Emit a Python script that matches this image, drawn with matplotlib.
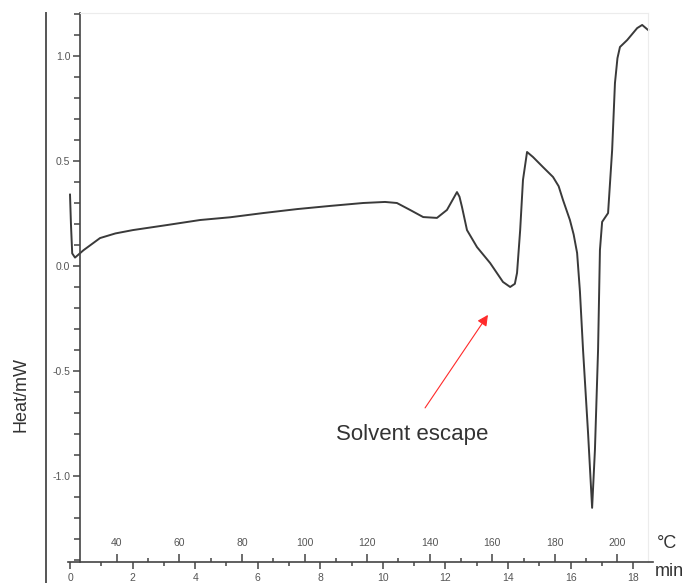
import matplotlib
matplotlib.use("Agg")
import matplotlib.pyplot as plt
import matplotlib.ticker as mticker
from matplotlib.lines import Line2D

# DSC curve (time in min, heat flow in mW)
time_min = [0.00, 0.03, 0.07, 0.16, 0.43, 0.96, 1.45, 2.01, 3.10, 4.16, 5.12,
            6.17, 7.26, 8.31, 9.37, 10.07, 10.45, 10.87, 11.29, 11.73, 12.05,
            12.25, 12.37, 12.45, 12.53, 12.69, 13.01, 13.43, 13.84, 14.07,
            14.22, 14.29, 14.39, 14.48, 14.61, 14.80, 15.12, 15.44, 15.62,
            15.76, 15.98, 16.10, 16.21, 16.30, 16.40, 16.56, 16.69, 16.78,
            16.88, 16.94, 17.01, 17.20, 17.33, 17.42, 17.50, 17.58, 17.81,
            18.13, 18.29, 18.48]
heat_mw = [0.34, 0.20, 0.06, 0.04, 0.075, 0.133, 0.155, 0.171, 0.195, 0.219,
           0.232, 0.252, 0.271, 0.286, 0.300, 0.305, 0.300, 0.267, 0.233,
           0.229, 0.267, 0.320, 0.352, 0.330, 0.281, 0.171, 0.090, 0.014,
           -0.076, -0.100, -0.085, -0.033, 0.171, 0.410, 0.543, 0.519, 0.471,
           0.424, 0.380, 0.314, 0.219, 0.150, 0.062, -0.120, -0.40, -0.795,
           -1.152, -0.876, -0.40, 0.076, 0.21, 0.252, 0.552, 0.871, 0.990,
           1.043, 1.076, 1.133, 1.148, 1.124]

y_major = [-1.0, -0.5, 0.0, 0.5, 1.0]
min_major = [0, 2, 4, 6, 8, 10, 12, 14, 16, 18]
min_minor = [1, 3, 5, 7, 9, 11, 13, 15, 17]
temp_major = [40, 60, 80, 100, 120, 140, 160, 180, 200]
temp_minor = [50, 70, 90, 110, 130, 150, 170, 190]

annot_text = "Solvent escape"
annot_head = (13.36, -0.233)
annot_tail = (11.35, -0.676)
annot_pos = (10.93, -0.805)

axis_col = "#444444"
label_col = "#555555"

plt.rcParams['font.family'] = ['Liberation Sans', 'DejaVu Sans']

fig = plt.figure(figsize=(6.88, 5.83), dpi=100)
W, H = 688.0, 583.0
ax = fig.add_axes([60 / W, 1 - 562 / H, 600 / W, (562 - 13) / H])

ax.plot(time_min, heat_mw, color="#3a3a3a", lw=1.4, solid_joinstyle="round")

ax.set_xlim(-0.32, 18.86)
ax.set_ylim(-1.41, 1.205)

# spines: left at ~0.32 min, bottom at ylim, faint top/right frame
ax.spines['left'].set_position(('data', 0.32))
ax.spines['left'].set_bounds(-1.41, 1.205)
ax.spines['bottom'].set_bounds(-0.06, 18.64)
for s in ('left', 'bottom'):
    ax.spines[s].set_color(axis_col)
    ax.spines[s].set_linewidth(1.2)
ax.spines['right'].set_position(('data', 18.48))
ax.spines['right'].set_bounds(-1.41, 1.205)
ax.spines['top'].set_bounds(0.32, 18.48)
for s in ('top', 'right'):
    ax.spines[s].set_color("#ececec")
    ax.spines[s].set_linewidth(0.8)

# y ticks
ax.yaxis.set_major_locator(mticker.FixedLocator(y_major))
ax.yaxis.set_minor_locator(mticker.MultipleLocator(0.1))
ax.yaxis.set_major_formatter(mticker.FuncFormatter(lambda v, p: "%.1f" % v))
ax.tick_params(axis='y', which='major', direction='out', length=5, width=1.1,
               color=axis_col, labelsize=7.5, labelcolor=label_col, pad=2)
ax.tick_params(axis='y', which='minor', direction='out', length=4, width=1.1,
               color=axis_col)

# bottom: minutes, ticks down
ax.xaxis.set_major_locator(mticker.FixedLocator(min_major))
ax.xaxis.set_minor_locator(mticker.FixedLocator(min_minor))
ax.tick_params(axis='x', which='major', direction='out', length=5, width=1.1,
               color=axis_col, labelsize=7.5, labelcolor=label_col, pad=3)
ax.tick_params(axis='x', which='minor', direction='out', length=3, width=1.1,
               color=axis_col)

# temperature scale, ticks up from the same line
sec = ax.secondary_xaxis(0.0, functions=(lambda t: 25 + 10 * t,
                                         lambda c: (c - 25) / 10.0))
sec.set_alignment('top')
sec.spines['top'].set_visible(False)
sec.spines['bottom'].set_visible(False)
sec.xaxis.set_major_locator(mticker.FixedLocator(temp_major))
sec.xaxis.set_minor_locator(mticker.FixedLocator(temp_minor))
sec.tick_params(axis='x', which='major', direction='out', length=6, width=1.1,
                color=axis_col, labelsize=7.5, labelcolor=label_col, pad=4)
sec.tick_params(axis='x', which='minor', direction='out', length=3, width=1.1,
                color=axis_col)

# annotation
ax.annotate("", xy=annot_head, xytext=annot_tail,
            arrowprops=dict(arrowstyle='-|>', color='#ff2a2a', lw=0.8,
                            mutation_scale=16, shrinkA=0, shrinkB=0))
ax.text(annot_pos[0], annot_pos[1], annot_text, ha='center', va='center',
        fontsize=16, color='#333333')

# axis titles and units
fig.text(21 / W, 1 - 395 / H, "Heat/mW", rotation=90, ha='center',
         va='center', fontsize=13, color='#333333')
fig.text(657 / W, 1 - 543 / H, "°C", ha='left', va='center', fontsize=13,
         color='#333333')
fig.text(655 / W, 3 / H, "min", ha='left', va='bottom', fontsize=13,
         color='#333333')

# outer left border line
fig.add_artist(Line2D([46 / W, 46 / W], [0, 1 - 13 / H], color="#555555",
                      lw=1.4, transform=fig.transFigure))

fig.savefig("out.png", dpi=100)
